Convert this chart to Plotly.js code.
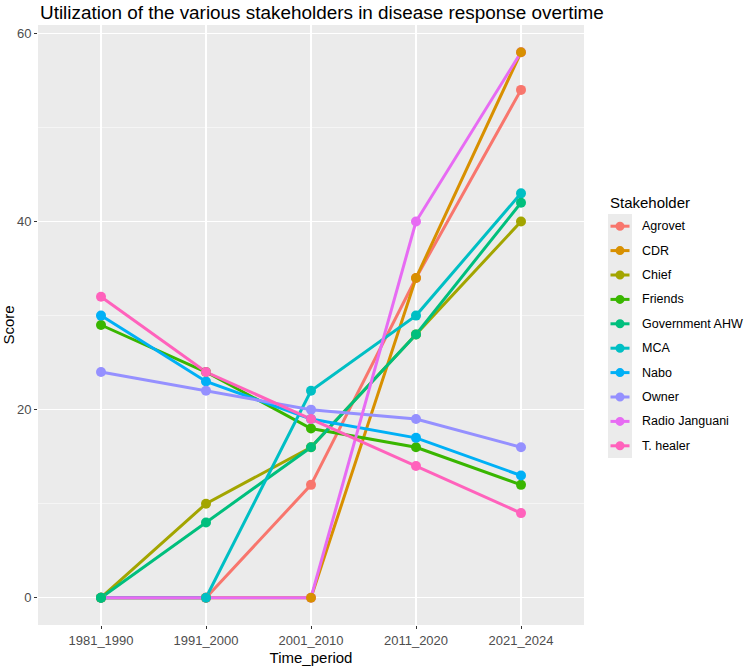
<!DOCTYPE html>
<html>
<head>
<meta charset="utf-8">
<script src="https://cdn.plot.ly/plotly-3.0.1.min.js"></script>
<style>
  html, body { margin: 0; padding: 0; background: #fff; }
  #chart { width: 744px; height: 667px; }
</style>
</head>
<body>
<div id="chart"></div>
<script>
// Time periods on the x axis
const periods = ["1981_1990", "1991_2000", "2001_2010", "2011_2020", "2021_2024"];

// Scores per stakeholder, one value per period
const agrovet        = [0, 0, 12, 34, 54];
const cdr            = [0, 0, 0, 34, 58];
const chief          = [0, 10, 16, 28, 40];
const friends        = [29, 24, 18, 16, 12];
const governmentAHW  = [0, 8, 16, 28, 42];
const mca            = [0, 0, 22, 30, 43];
const nabo           = [30, 23, 19, 17, 13];
const owner          = [24, 22, 20, 19, 16];
const radioJanguani  = [0, 0, 0, 40, 58];
const tHealer        = [32, 24, 19, 14, 9];

const stakeholders = ["Agrovet", "CDR", "Chief", "Friends", "Government AHW",
                      "MCA", "Nabo", "Owner", "Radio Janguani", "T. healer"];
const scores = [agrovet, cdr, chief, friends, governmentAHW,
                mca, nabo, owner, radioJanguani, tHealer];

// default discrete hue palette
const colors = ["#F8766D", "#D89000", "#A3A500", "#39B600", "#00BF7D",
                "#00BFC4", "#00B0F6", "#9590FF", "#E76BF3", "#FF62BC"];

// order in which the point layer is stacked (last one ends up on top)
const pointOrder = ["Radio Janguani", "Agrovet", "CDR", "Chief", "MCA",
                    "Government AHW", "Friends", "Nabo", "Owner", "T. healer"];

const LINE_W = 3;
const POINT_SIZE = 10;

// line layer
const lineTraces = stakeholders.map((name, i) => ({
  type: "scatter",
  mode: "lines",
  name: name,
  legendgroup: name,
  showlegend: false,
  x: periods,
  y: scores[i],
  line: { color: colors[i], width: LINE_W },
  hoverinfo: "x+y+name"
}));

// point layer drawn over every line
const pointTraces = pointOrder.map(name => {
  const i = stakeholders.indexOf(name);
  return {
    type: "scatter",
    mode: "markers",
    name: name,
    legendgroup: name,
    showlegend: false,
    x: periods,
    y: scores[i],
    marker: { color: colors[i], size: POINT_SIZE },
    hoverinfo: "x+y+name"
  };
});

const FONT = "Liberation Sans, Arial, sans-serif";
const tickFont = { family: FONT, size: 13, color: "#4D4D4D" };
const titleFont = { family: FONT, size: 15, color: "#000" };

const M = { l: 38, r: 160, t: 25, b: 42 };
const plotW = 744 - M.l - M.r;
const plotH = 667 - M.t - M.b;
const px = v => (v - M.l) / plotW;        // pixel column -> paper x
const py = v => (667 - M.b - v) / plotH;  // pixel row -> paper y

// Stakeholder key, placed to the right of the panel
const KEY_LEFT = 608, KEY_RIGHT = 632, KEY_TOP = 214, KEY_STEP = 24.4;
const keyShapes = [{
  type: "rect", xref: "paper", yref: "paper",
  x0: px(KEY_LEFT), x1: px(KEY_RIGHT),
  y0: py(KEY_TOP + KEY_STEP * stakeholders.length), y1: py(KEY_TOP),
  fillcolor: "#EBEBEB", line: { width: 0 }, layer: "below"
}];
const keyAnnotations = [{
  text: "Stakeholder", xref: "paper", yref: "paper",
  x: px(KEY_LEFT), y: py(202), xanchor: "left", yanchor: "middle",
  showarrow: false, font: titleFont
}];
stakeholders.forEach((name, i) => {
  const cy = py(KEY_TOP + KEY_STEP * (i + 0.5));
  const cx = px((KEY_LEFT + KEY_RIGHT) / 2);
  keyShapes.push({
    type: "line", xref: "paper", yref: "paper",
    xsizemode: "pixel", xanchor: cx, x0: -9.5, x1: 9.5,
    y0: cy, y1: cy,
    line: { color: colors[i], width: LINE_W }
  });
  keyShapes.push({
    type: "circle", xref: "paper", yref: "paper",
    xsizemode: "pixel", ysizemode: "pixel",
    xanchor: cx, yanchor: cy, x0: -4.5, x1: 4.5, y0: -4.5, y1: 4.5,
    fillcolor: colors[i], line: { width: 0 }
  });
  keyAnnotations.push({
    text: name, xref: "paper", yref: "paper",
    x: px(640), y: cy, xanchor: "left", yanchor: "middle",
    showarrow: false,
    font: { family: FONT, size: 12.5, color: "#000" }
  });
});

const layout = {
  width: 744,
  height: 667,
  margin: M,
  paper_bgcolor: "#FFFFFF",
  plot_bgcolor: "#EBEBEB",
  showlegend: false,
  title: {
    text: "Utilization of the various stakeholders in disease response overtime",
    font: { family: FONT, size: 18.9, color: "#000" },
    xref: "container", x: 40 / 744, xanchor: "left",
    yref: "container", y: 1 - 12 / 667, yanchor: "middle"
  },
  xaxis: {
    type: "category",
    categoryorder: "array",
    categoryarray: periods,
    range: [-0.6, 4.6],
    showgrid: true,
    gridcolor: "#FFFFFF",
    gridwidth: 1.1,
    zeroline: false,
    showline: false,
    ticks: "outside",
    ticklen: 3,
    tickcolor: "#333333",
    tickwidth: 1,
    tickfont: tickFont,
    title: { text: "Time_period", font: titleFont, standoff: 5 },
    fixedrange: true
  },
  yaxis: {
    range: [-2.9, 60.9],
    tickvals: [0, 20, 40, 60],
    showgrid: true,
    gridcolor: "#FFFFFF",
    gridwidth: 1.1,
    minor: { tickvals: [10, 30, 50], showgrid: true, gridcolor: "#FFFFFF", gridwidth: 0.5, ticks: "" },
    zeroline: false,
    showline: false,
    ticks: "outside",
    ticklen: 3,
    tickcolor: "#333333",
    tickwidth: 1,
    tickfont: tickFont,
    title: { text: "Score", font: titleFont, standoff: 6 },
    fixedrange: true
  },
  shapes: keyShapes,
  annotations: keyAnnotations
};

Plotly.newPlot("chart", lineTraces.concat(pointTraces), layout, { displayModeBar: false, staticPlot: true });
</script>
</body>
</html>
